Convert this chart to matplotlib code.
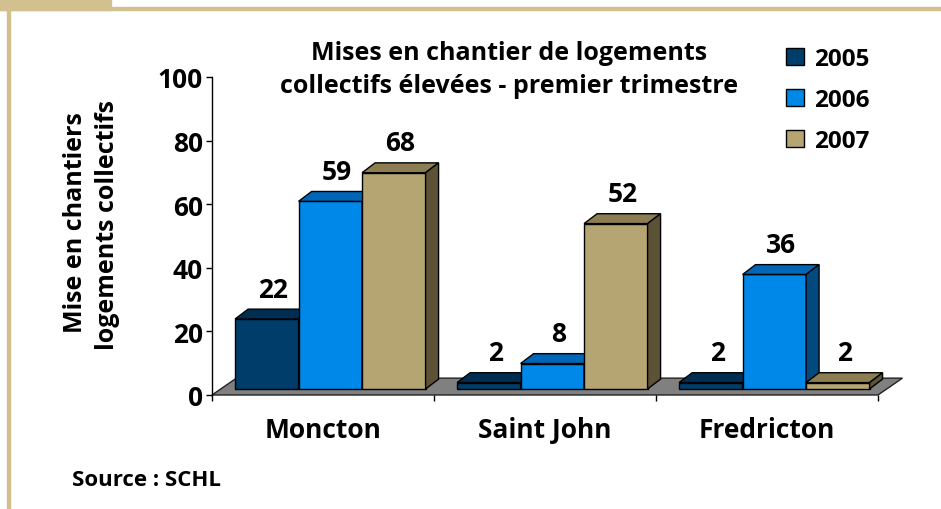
import matplotlib
matplotlib.use('Agg')
import matplotlib.pyplot as plt
from matplotlib.patches import Polygon, Rectangle, Patch

plt.rcParams['font.family'] = ['Open Sans', 'DejaVu Sans']
plt.rcParams['font.weight'] = 'bold'

# Data
villes = ['Moncton', 'Saint John', 'Fredricton']
annees = ['2005', '2006', '2007']
v2005 = [22, 2, 2]
v2006 = [59, 8, 36]
v2007 = [68, 52, 2]
series = [v2005, v2006, v2007]

# colours: front, top, side
couleurs = [('#003D6B', '#002E52', '#002847'),
            ('#0088E8', '#0066B8', '#004A80'),
            ('#B5A572', '#8C7E52', '#5C5236')]

# pseudo 3D geometry (data units)
gap = 0.104      # space before first bar in a category
bw = 0.286       # bar width
ddx, ddy = 0.0586, 3.1   # bar depth
base = 1.9       # bar front face base
fdx, fdy = 0.11, 5.3     # floor depth

fig = plt.figure(figsize=(9.41, 5.10), dpi=100)
ax = fig.add_axes([212/941, 1 - 396/510, 666/941, 318/510])
ax.set_xlim(0, 3)
ax.set_ylim(0, 100)

# frame decoration
tan = '#D2C08E'
fig.patches.append(Rectangle((0, 1 - 11/510), 111/941, 11/510, transform=fig.transFigure,
                             color=tan, zorder=0))
fig.patches.append(Rectangle((0, 1 - 11/510), 1, 3/510, transform=fig.transFigure,
                             color=tan, zorder=0))
fig.patches.append(Rectangle((7/941, 0), 3/941, 1 - 11/510, transform=fig.transFigure,
                             color=tan, zorder=0))

# floor
floor = Polygon([(0, 0), (3, 0), (3 + fdx, fdy), (fdx, fdy)], closed=True,
                facecolor='#808080', edgecolor='#222222', lw=1, clip_on=False, zorder=1)
ax.add_patch(floor)

z = 2
for i in range(len(villes)):
    for j, vals in enumerate(series):
        v = vals[i]
        x0 = i + gap + j * bw
        front, top, side = couleurs[j]
        y1 = base + v
        ax.add_patch(Polygon([(x0, base), (x0 + bw, base), (x0 + bw, y1), (x0, y1)],
                             facecolor=front, edgecolor='black', lw=1, clip_on=False, zorder=z))
        ax.add_patch(Polygon([(x0, y1), (x0 + bw, y1), (x0 + bw + ddx, y1 + ddy), (x0 + ddx, y1 + ddy)],
                             facecolor=top, edgecolor='black', lw=1, clip_on=False, zorder=z))
        ax.add_patch(Polygon([(x0 + bw, base), (x0 + bw + ddx, base + ddy),
                              (x0 + bw + ddx, y1 + ddy), (x0 + bw, y1)],
                             facecolor=side, edgecolor='black', lw=1, clip_on=False, zorder=z))
        z += 1
        ax.text(x0 + bw / 2 + ddx / 2, y1 + ddy + 2.0, str(v), ha='center', va='bottom',
                fontsize=19, fontweight='bold', zorder=20)

# axes styling
for s in ['top', 'right', 'bottom']:
    ax.spines[s].set_visible(False)
ax.spines['left'].set_linewidth(1)
ax.set_yticks(range(0, 101, 20))
ax.tick_params(axis='y', length=4.5, width=1, labelsize=19, pad=2)
ax.set_xticks([0, 1, 2, 3])
ax.set_xticklabels([])
ax.tick_params(axis='x', which='major', length=4, width=1)
ax.set_xticks([0.5, 1.5, 2.5], minor=True)
ax.set_xticklabels(villes, minor=True, fontsize=19, fontweight='bold')
ax.tick_params(axis='x', which='minor', length=0, pad=15)
for lab in ax.get_yticklabels():
    lab.set_fontweight('bold')

# titles
fig.text(509/941, 1 - 60/510, 'Mises en chantier de logements',
         ha='center', va='baseline', fontsize=18, fontweight='bold')
fig.text(509/941, 1 - 93/510, 'collectifs élevées - premier trimestre',
         ha='center', va='baseline', fontsize=18, fontweight='bold')
fig.text(75/941, 1 - 223/510, 'Mise en chantiers', rotation=90,
         ha='center', va='center', fontsize=18, fontweight='bold')
fig.text(108/941, 1 - 225/510, 'logements collectifs', rotation=90,
         ha='center', va='center', fontsize=18, fontweight='bold')
fig.text(72/941, 1 - 481/510, 'Source : SCHL', ha='left', va='center',
         fontsize=16, fontweight='bold')

handles = [Patch(facecolor=c[0], edgecolor='black', lw=1) for c in couleurs]
fig.legend(handles, annees, loc='upper left', bbox_to_anchor=(786/941, 1 - 48/510),
           frameon=False, handlelength=0.75, handleheight=0.75,
           handletextpad=0.4, labelspacing=0.7, borderaxespad=0, borderpad=0,
           prop={'weight': 'bold', 'size': 17.5})

fig.savefig('out.png', dpi=100)
